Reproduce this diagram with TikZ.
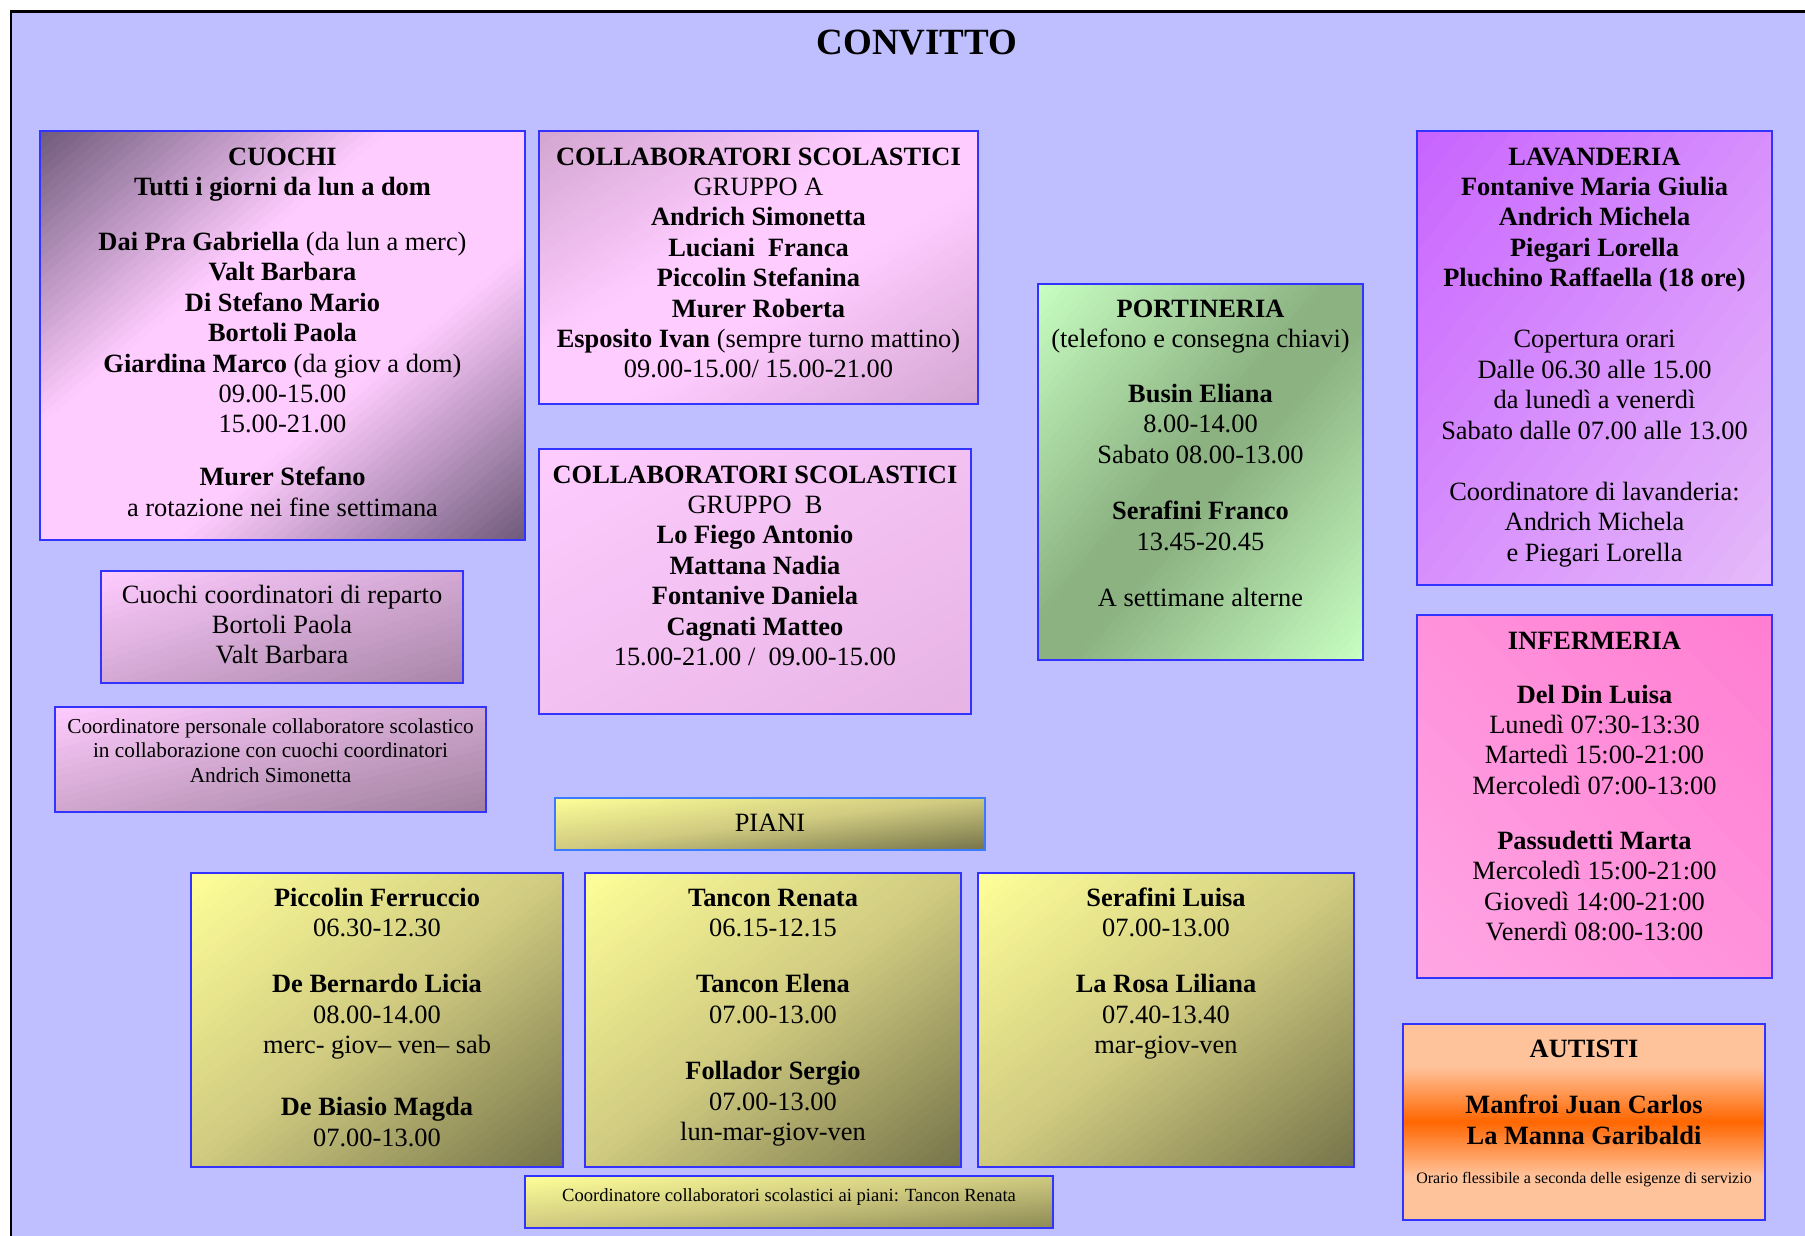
\documentclass[tikz,border=0pt]{standalone}
\usepackage{fontspec}
\setmainfont{Liberation Serif}
\definecolor{bg}{HTML}{BFBFFF}
\definecolor{boxblue}{HTML}{3333FF}
\definecolor{pianiblue}{HTML}{3A7BFF}
\definecolor{pinkL}{HTML}{FFCCFF}
\definecolor{cuochiD}{HTML}{6E5A7A}
\definecolor{collA}{HTML}{D2A5D0}
\definecolor{collB}{HTML}{E6B4E4}
\definecolor{mauveD}{HTML}{A886A8}
\definecolor{mauveE}{HTML}{A0809E}
\definecolor{greenL}{HTML}{C8FFC2}
\definecolor{greenD}{HTML}{8CB282}
\definecolor{lavS}{HTML}{C864FF}
\definecolor{lavE}{HTML}{E6BAFA}
\definecolor{infS}{HTML}{FF7DD2}
\definecolor{infE}{HTML}{FFA6E4}
\definecolor{peach}{HTML}{FFC39B}
\definecolor{orangeD}{HTML}{FF6600}
\definecolor{yellowL}{HTML}{FFFF99}
\definecolor{oliveM}{HTML}{CFCA80}
\definecolor{oliveD}{HTML}{76744A}
\definecolor{oliveE}{HTML}{8E8B56}
\newcommand{\bodyfont}{\fontsize{26.4}{30.4}\selectfont}
\newcommand{\smallerfont}{\fontsize{21.3}{24.7}\selectfont}
% diagonal (corner to corner) gradient segment, inside a unit-square scope
\newcommand{\dseg}[4]{%
  \foreach \gi in {0,...,29}{%
    \pgfmathsetmacro{\gT}{#1+(#2-#1)*\gi/30}%
    \pgfmathsetmacro{\gP}{100-100*(\gi+0.5)/30}%
    \fill[#3!\gP!#4] ({2*\gT+1},-1) -- (-1,{2*\gT+1}) -- (-1,4) -- (4,4) -- (4,-1) -- cycle;
  }}
\newcommand{\dplain}[2]{\fill[#2] ({2*#1+1},-1) -- (-1,{2*#1+1}) -- (-1,4) -- (4,4) -- (4,-1) -- cycle;}
% vertical gradient segment
\newcommand{\vseg}[4]{%
  \foreach \gi in {0,...,29}{%
    \pgfmathsetmacro{\gT}{#1+(#2-#1)*\gi/30}%
    \pgfmathsetmacro{\gP}{100-100*(\gi+0.5)/30}%
    \fill[#3!\gP!#4] (-1,\gT) -- (2,\gT) -- (2,2) -- (-1,2) -- cycle;
  }}
\newcommand{\vplain}[2]{\fill[#2] (-1,#1) -- (2,#1) -- (2,2) -- (-1,2) -- cycle;}
\newcommand{\gbox}[5]{%
  \begin{scope}[shift={(#1,#2)}, xscale=#3, yscale=#4]
    \clip (0,0) rectangle (1,1);
    #5
  \end{scope}}
\newcommand{\gboxflip}[5]{%
  \begin{scope}[shift={({#1+#3},#2)}, xscale=-#3, yscale=#4]
    \clip (0,0) rectangle (1,1);
    #5
  \end{scope}}
\begin{document}
\begin{tikzpicture}[x=1pt,y=-1pt,
  box/.style={draw=boxblue, line width=1.8pt, anchor=north west, inner sep=0pt, outer sep=0pt},
  txt/.style={anchor=north, inner sep=0pt, align=center, font=\bodyfont, text=black}]
\useasboundingbox (0,0) rectangle (1805,1236);
\fill[white] (0,0) rectangle (1805,1236);
\fill[bg] (11,11) rectangle (1805,1236);
\draw[line width=2.6pt] (10,11.5) -- (1805,11.5);
\draw[line width=1.5pt] (11,11) -- (11,1236);

\node[font=\fontsize{37}{44}\selectfont\bfseries, anchor=base, inner sep=0pt] (title) at (917,55) {CONVITTO};

% gradient fills
\gbox{40}{131}{485}{409}{\dseg{0}{0.36}{cuochiD}{pinkL}\dplain{0.36}{pinkL}\dseg{0.64}{1}{pinkL}{cuochiD}}
\gbox{539}{131}{439}{273}{\dseg{0}{0.4}{collA}{pinkL}\dplain{0.4}{pinkL}\dseg{0.6}{1}{pinkL}{collA}}
\gbox{539}{449}{432}{265}{\dseg{0}{1}{pinkL}{collB}}
\gbox{1038}{284}{325}{376}{\dseg{0}{0.45}{greenL}{greenD}\dplain{0.45}{greenD}\dseg{0.55}{1}{greenD}{greenL}}
\gbox{1417}{131}{355}{454}{\dseg{0}{1}{lavS}{lavE}}
\gboxflip{1417}{615}{355}{363}{\dseg{0}{1}{infS}{infE}}
\gbox{1403}{1024}{362}{196}{\vplain{0}{peach}\vseg{0.22}{0.5}{peach}{orangeD}\vseg{0.5}{0.78}{orangeD}{peach}\vplain{0.78}{peach}}
\gbox{101}{571}{362}{112}{\dseg{0}{1}{pinkL}{mauveD}}
\gbox{55}{707}{431}{105}{\dseg{0}{1}{pinkL}{mauveE}}
\gbox{555}{798}{430}{52}{\dseg{0}{0.5}{yellowL}{oliveM}\dseg{0.5}{1}{oliveM}{oliveD}}
\gbox{191}{873}{372}{294}{\dseg{0}{0.5}{yellowL}{oliveM}\dseg{0.5}{1}{oliveM}{oliveD}}
\gbox{585}{873}{376}{294}{\dseg{0}{0.5}{yellowL}{oliveM}\dseg{0.5}{1}{oliveM}{oliveD}}
\gbox{978}{873}{376}{294}{\dseg{0}{0.5}{yellowL}{oliveM}\dseg{0.5}{1}{oliveM}{oliveD}}
\gbox{525}{1176}{528}{52}{\dseg{0}{0.5}{yellowL}{oliveM}\dseg{0.5}{1}{oliveM}{oliveE}}

% box outlines
\node[box, minimum width=485pt, minimum height=409pt] (cuochi) at (40,131) {};
\node[box, minimum width=439pt, minimum height=273pt] (collabA) at (539,131) {};
\node[box, minimum width=432pt, minimum height=265pt] (collabB) at (539,449) {};
\node[box, minimum width=325pt, minimum height=376pt] (port) at (1038,284) {};
\node[box, minimum width=355pt, minimum height=454pt] (lav) at (1417,131) {};
\node[box, minimum width=355pt, minimum height=363pt] (inf) at (1417,615) {};
\node[box, minimum width=362pt, minimum height=196pt] (aut) at (1403,1024) {};
\node[box, minimum width=362pt, minimum height=112pt] (cuococ) at (101,571) {};
\node[box, minimum width=431pt, minimum height=105pt] (coordp) at (55,707) {};
\node[box, draw=pianiblue, minimum width=430pt, minimum height=52pt] (piani) at (555,798) {};
\node[box, minimum width=372pt, minimum height=294pt] (p1) at (191,873) {};
\node[box, minimum width=376pt, minimum height=294pt] (p2) at (585,873) {};
\node[box, minimum width=376pt, minimum height=294pt] (p3) at (978,873) {};
\node[box, line width=2.4pt, minimum width=528pt, minimum height=52pt] (cpiani) at (525,1176) {};

% texts
\node[txt] (cuochiT) at (282.5,143.7) {\strut\textbf{CUOCHI}\\
\textbf{Tutti i giorni da lun a dom}\\[24.6pt]
\textbf{Dai Pra Gabriella} (da lun a merc)\\
\textbf{Valt Barbara}\\
\textbf{Di Stefano Mario}\\
\textbf{Bortoli Paola}\\
\textbf{Giardina Marco} (da giov a dom)\\
09.00-15.00\\
15.00-21.00\\[22.6pt]
\textbf{Murer Stefano}\\
a rotazione nei fine settimana};

\node[txt] (collabAT) at (758.5,143.7) {\strut\textbf{COLLABORATORI SCOLASTICI}\\
GRUPPO A\\
\textbf{Andrich Simonetta}\\
\textbf{Luciani\ \ Franca}\\
\textbf{Piccolin Stefanina}\\
\textbf{Murer Roberta}\\
\textbf{Esposito Ivan} (sempre turno mattino)\\
09.00-15.00/ 15.00-21.00};

\node[txt] (collabBT) at (755,461.7) {\strut\textbf{COLLABORATORI SCOLASTICI}\\
GRUPPO\ \ B\\
\textbf{Lo Fiego Antonio}\\
\textbf{Mattana Nadia}\\
\textbf{Fontanive Daniela}\\
\textbf{Cagnati Matteo}\\
15.00-21.00 /\ \ 09.00-15.00};

\node[txt] (portT) at (1200.5,295.7) {\strut\textbf{PORTINERIA}\\
(telefono e consegna chiavi)\\[24.6pt]
\textbf{Busin Eliana}\\
8.00-14.00\\
Sabato 08.00-13.00\\[26pt]
\textbf{Serafini Franco}\\
13.45-20.45\\[25.6pt]
A settimane alterne};

\node[txt] (lavT) at (1594.5,143.7) {\strut\textbf{LAVANDERIA}\\
\textbf{Fontanive Maria Giulia}\\
\textbf{Andrich Michela}\\
\textbf{Piegari Lorella}\\
\textbf{Pluchino Raffaella (18 ore)}\\[30.8pt]
Copertura orari\\
Dalle 06.30 alle 15.00\\
da lunedì a venerdì\\
Sabato dalle 07.00 alle 13.00\\[31pt]
Coordinatore di lavanderia:\\
Andrich Michela\\
e Piegari Lorella};

\node[txt] (infT) at (1594.5,627.7) {\strut\textbf{INFERMERIA}\\[23.6pt]
\textbf{Del Din Luisa}\\
Lunedì 07:30-13:30\\
Martedì 15:00-21:00\\
Mercoledì 07:00-13:00\\[24.6pt]
\textbf{Passudetti Marta}\\
Mercoledì 15:00-21:00\\
Giovedì 14:00-21:00\\
Venerdì 08:00-13:00};

\node[txt] (autT) at (1584,1036.3) {\strut\textbf{AUTISTI}\\[25.6pt]
\textbf{Manfroi Juan Carlos}\\
\textbf{La Manna Garibaldi}\\[8.6pt]
{\fontsize{16}{19}\selectfont Orario flessibile a seconda delle esigenze di servizio}};

\node[txt] (cuococT) at (282,581.7) {\strut Cuochi coordinatori di reparto\\
Bortoli Paola\\
Valt Barbara};

\node[txt, font=\smallerfont] (coordpT) at (270.5,715.7) {\strut Coordinatore personale collaboratore scolastico\\
in collaborazione con cuochi coordinatori\\
Andrich Simonetta};

\node[txt] (pianiT) at (770,809.7) {\strut PIANI};

\node[txt] (p1T) at (377,884.7) {\strut\textbf{Piccolin Ferruccio}\\
06.30-12.30\\[26pt]
\textbf{De Bernardo Licia}\\
08.00-14.00\\
merc- giov-- ven-- sab\\[31.6pt]
\textbf{De Biasio Magda}\\
07.00-13.00};

\node[txt] (p2T) at (773,884.7) {\strut\textbf{Tancon Renata}\\
06.15-12.15\\[26pt]
\textbf{Tancon Elena}\\
07.00-13.00\\[26pt]
\textbf{Follador Sergio}\\
07.00-13.00\\
lun-mar-giov-ven};

\node[txt] (p3T) at (1166,884.7) {\strut\textbf{Serafini Luisa}\\
07.00-13.00\\[26pt]
\textbf{La Rosa Liliana}\\
07.40-13.40\\
mar-giov-ven};

\node[txt, font=\fontsize{18.6}{21.4}\selectfont] (cpianiT) at (789,1186.7) {\strut Coordinatore collaboratori scolastici ai piani: Tancon Renata};
\end{tikzpicture}
\end{document}
